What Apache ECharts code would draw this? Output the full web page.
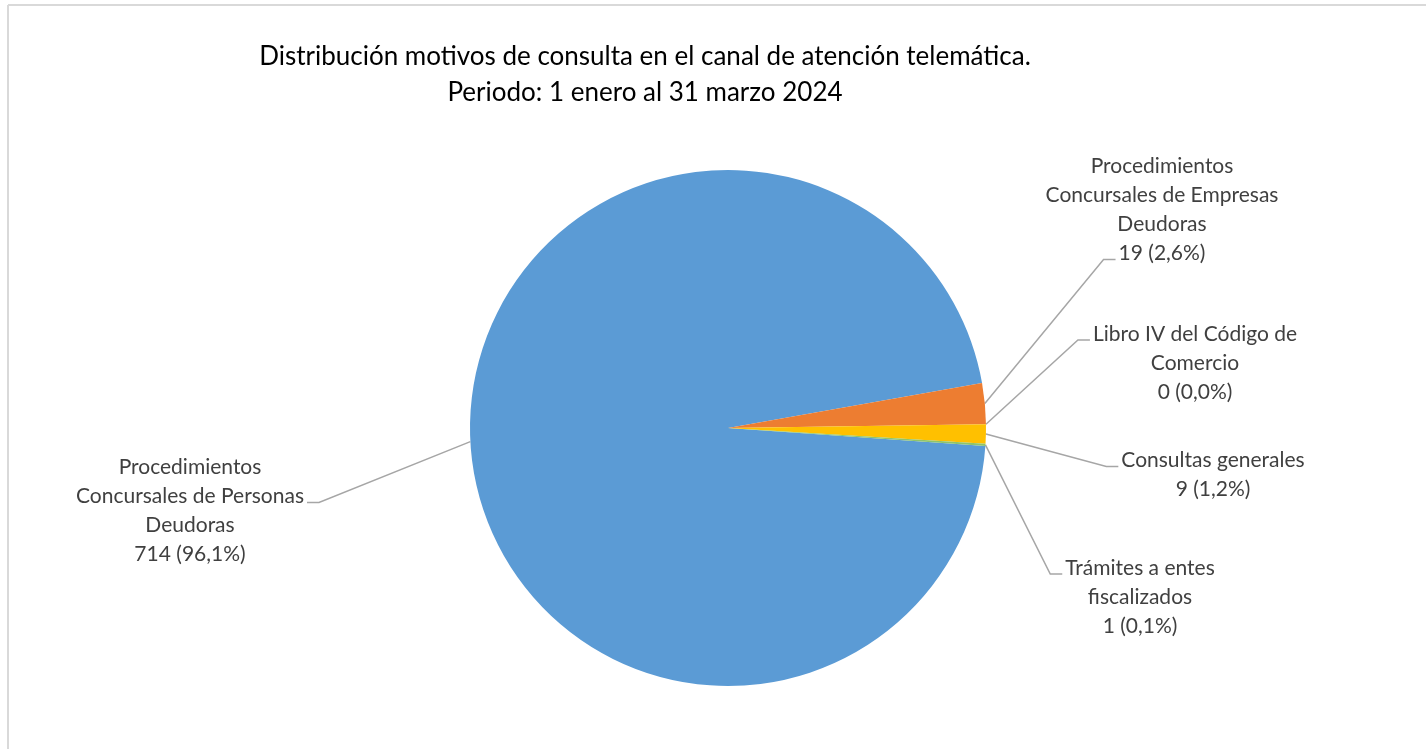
<!DOCTYPE html>
<html>
<head>
<meta charset="utf-8">
<script src="https://cdn.jsdelivr.net/npm/echarts@6/dist/echarts.min.js"></script>
<style>
html,body{margin:0;padding:0;background:#fff;}
#chart{width:1426px;height:749px;}
</style>
</head>
<body>
<div id="chart"></div>
<script>
// ---- data ----
const categories = [
  'Procedimientos\nConcursales de Personas\nDeudoras',
  'Procedimientos\nConcursales de Empresas\nDeudoras',
  'Libro IV del Código de\nComercio',
  'Consultas generales',
  'Trámites a entes\nfiscalizados'
];
const values = [714, 19, 0, 9, 1];
const titleLines = [
  'Distribución motivos de consulta en el canal de atención telemática.',
  'Periodo: 1 enero al 31 marzo 2024'
];

// ---- styles / layout ----
const colors = ['#5B9BD5', '#ED7D31', '#A5A5A5', '#FFC000', '#8FC46A'];
const labelAnchors = [[190, 511], [1162, 210], [1195, 363], [1213, 475], [1140, 597]];
const labelAttachLine = [1, 3, 0, 0, 0];
const FONT = 'Lato, "Open Sans", sans-serif';
const LABEL_SIZE = 21;
const LINE_H = 29;

const measureCtx = document.createElement('canvas').getContext('2d');
measureCtx.font = LABEL_SIZE + 'px ' + FONT;

const fmt = p => p.name + '\n' + p.value + ' (' + p.percent.toFixed(1).replace('.', ',') + '%)';

const chart = echarts.init(document.getElementById('chart'), null, {renderer: 'canvas'});
const seriesData = categories.map((c, i) => ({
  name: c, value: values[i], itemStyle: {color: colors[i]}
}));
const total = values.reduce((a, b) => a + b, 0);

chart.setOption({
  animation: false,
  backgroundColor: '#fff',
  title: {
    text: titleLines.join('\n'),
    left: 640,
    top: 34,
    textAlign: 'center',
    textStyle: {fontFamily: FONT, fontSize: 26, fontWeight: 'normal', color: '#000', lineHeight: 36}
  },
  graphic: [
    {type: 'line', shape: {x1: 8, y1: 5, x2: 1426, y2: 5}, style: {stroke: '#d9d9d9', lineWidth: 2}},
    {type: 'line', shape: {x1: 8, y1: 5, x2: 8, y2: 749}, style: {stroke: '#d9d9d9', lineWidth: 2}}
  ],
  series: [{
    type: 'pie',
    center: [728, 428],
    radius: 258,
    startAngle: 356,
    clockwise: true,
    avoidLabelOverlap: false,
    minShowLabelAngle: 0,
    stillShowZeroSum: true,
    data: seriesData,
    label: {
      show: true,
      position: 'outside',
      fontFamily: FONT,
      fontSize: LABEL_SIZE,
      lineHeight: LINE_H,
      color: '#404040',
      align: 'center',
      formatter: fmt
    },
    labelLine: {show: true, length: 20, length2: 12, smooth: false, lineStyle: {color: '#A6A6A6', width: 1.5}},
    labelLayout: function (params) {
      const i = params.dataIndex;
      const a = labelAnchors[i];
      const text = fmt({name: categories[i], value: values[i], percent: values[i] / total * 100});
      const lines = text.split('\n');
      const k = labelAttachLine[i];
      const lineY = a[1] - (lines.length - 1) / 2 * LINE_H + k * LINE_H + 6;
      const w = measureCtx.measureText(lines[k]).width;
      const onRight = a[0] > 728;
      const dir = onRight ? -1 : 1;
      const xText = a[0] + dir * (w / 2 + 3);
      const xStub = xText + dir * 12;
      const edge = params.labelLinePoints ? params.labelLinePoints[0] : [xStub, lineY];
      return {
        x: a[0], y: a[1], align: 'center', verticalAlign: 'middle',
        labelLinePoints: [edge, [xStub, lineY], [xText, lineY]]
      };
    },
    emphasis: {disabled: true}
  }]
});
</script>
</body>
</html>
